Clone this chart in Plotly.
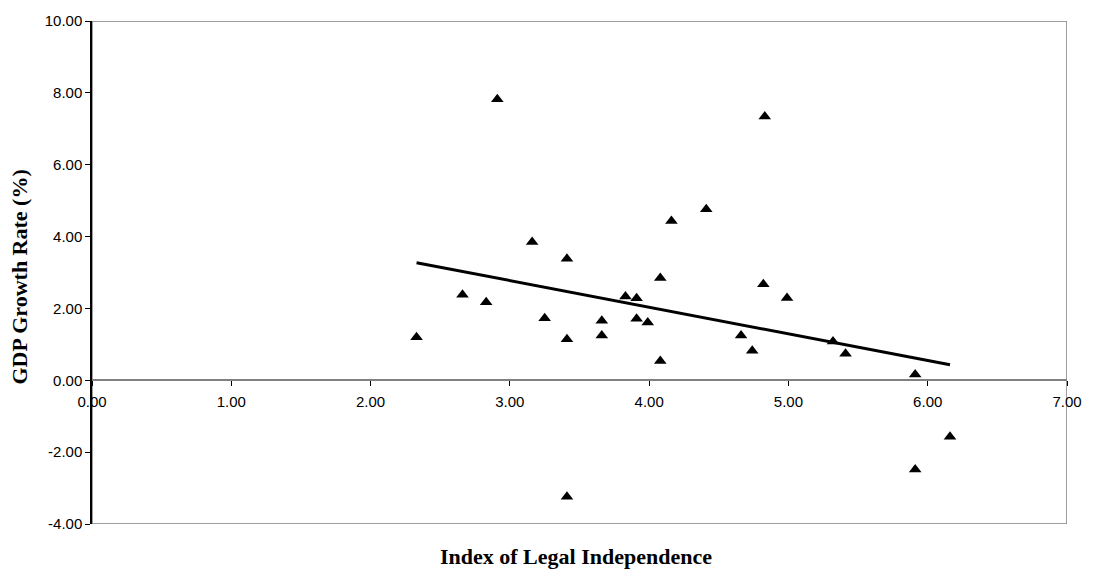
import numpy as np
import plotly.graph_objects as go

# Index of Legal Independence (x) and GDP Growth Rate % (y)
legal_index = [2.33, 2.66, 2.83, 2.91, 3.16, 3.25, 3.41, 3.41, 3.41, 3.66,
               3.66, 3.83, 3.91, 3.91, 3.99, 4.08, 4.08, 4.16, 4.41, 4.66,
               4.74, 4.82, 4.83, 4.99, 5.32, 5.41, 5.91, 5.91, 6.16]
gdp_growth = [1.20, 2.38, 2.17, 7.82, 3.85, 1.73, 3.38, 1.14, -3.24, 1.66,
              1.25, 2.33, 2.28, 1.71, 1.61, 2.85, 0.54, 4.43, 4.76, 1.25,
              0.82, 2.67, 7.34, 2.29, 1.08, 0.74, 0.16, -2.48, -1.57]

x_ticks = [0, 1, 2, 3, 4, 5, 6, 7]
y_ticks = [-4, -2, 0, 2, 4, 6, 8, 10]

# linear trend line (least squares) over the data span
slope, intercept = np.polyfit(legal_index, gdp_growth, 1)
trend_x = [min(legal_index), max(legal_index)]
trend_y = [slope * v + intercept for v in trend_x]

fig = go.Figure()
fig.add_trace(go.Scatter(
    x=legal_index, y=gdp_growth, mode="markers",
    marker=dict(symbol="triangle-up", size=11, color="black"),
    showlegend=False, hoverinfo="x+y"))
fig.add_trace(go.Scatter(
    x=trend_x, y=trend_y, mode="lines",
    line=dict(color="black", width=3),
    showlegend=False, hoverinfo="skip"))

fig.add_shape(type="rect", xref="x", yref="y", x0=0, x1=7, y0=-4, y1=10,
              line=dict(color="#808080", width=1.5), layer="below")

tickfont = dict(family="Liberation Sans, Arial, sans-serif", size=15, color="black")
titlefont = dict(family="Liberation Serif, Times New Roman, serif", size=22, color="black")

fig.update_layout(
    width=1094, height=572,
    margin=dict(l=92, r=25, t=15, b=48),
    paper_bgcolor="white", plot_bgcolor="white",
    xaxis=dict(range=[0, 7], tickvals=x_ticks,
               ticktext=[f"{v:.2f}" for v in x_ticks],
               anchor="free", position=4/14,
               showline=True, linecolor="#808080", linewidth=1.5,
               ticks="outside", ticklen=5, tickcolor="black",
               showgrid=False, zeroline=False, tickfont=tickfont,
               ticklabelstandoff=3),
    yaxis=dict(range=[-4, 10], tickvals=y_ticks,
               ticktext=[f"{v:.2f}" for v in y_ticks],
               showline=True, linecolor="black", linewidth=1.5,
               ticks="outside", ticklen=5, tickcolor="black",
               showgrid=False, zeroline=False, tickfont=tickfont),
    annotations=[
        dict(text="<b>Index of Legal Independence</b>", xref="paper", yref="paper",
             x=(577 - 92) / 977, y=0, yshift=-32, xanchor="center", yanchor="middle",
             showarrow=False, font=titlefont),
        dict(text="<b>GDP Growth Rate (%)</b>", xref="paper", yref="paper",
             x=0, xshift=-72, y=0.49, xanchor="center", yanchor="middle",
             textangle=-90, showarrow=False, font=titlefont),
    ],
)

fig.write_html("out.html", config={"displayModeBar": False},
               post_script="document.body.style.margin='0';")
